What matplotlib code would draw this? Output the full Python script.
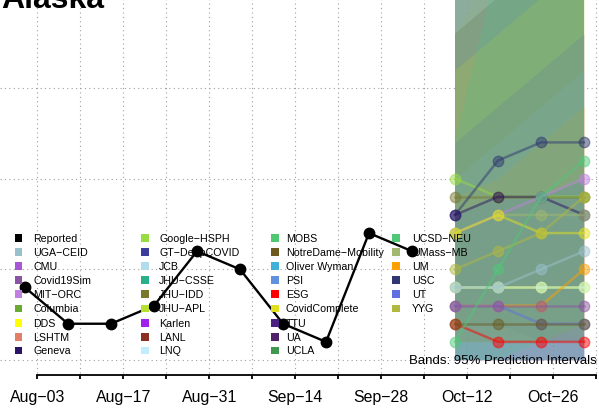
import matplotlib
matplotlib.use("Agg")
import matplotlib.pyplot as plt
import matplotlib.dates as mdates
from matplotlib.patches import Rectangle
import pandas as pd

plt.rcParams['font.family'] = ['Liberation Sans', 'DejaVu Sans']

# reported weekly values
report_dates = pd.date_range('2020-08-01', periods=10, freq='7D')
reported = [4, 2, 2, 3, 6, 5, 2, 1, 7, 6]

# forecast weeks
fc_dates = pd.date_range('2020-10-10', periods=4, freq='7D')

# legend (column-major, as in the original)
legend_names = ['Reported', 'UGA\u2212CEID', 'CMU', 'Covid19Sim', 'MIT\u2212ORC', 'Columbia', 'DDS', 'LSHTM', 'Geneva',
                'Google\u2212HSPH', 'GT\u2212DeepCOVID', 'JCB', 'JHU\u2212CSSE', 'JHU\u2212IDD', 'JHU\u2212APL', 'Karlen', 'LANL', 'LNQ',
                'MOBS', 'NotreDame\u2212Mobility', 'Oliver Wyman', 'PSI', 'ESG', 'CovidComplete', 'TTU', 'UA', 'UCLA',
                'UCSD\u2212NEU', 'UMass\u2212MB', 'UM', 'USC', 'UT', 'YYG']
legend_colors = ['#000000', '#9ac0cc', '#a855d8', '#8a55a0', '#c080e0', '#6aaa30', '#ffff00', '#e08068', '#2a1466',
                 '#98dc40', '#3c3c9c', '#b0dcec', '#28b088', '#787830', '#b8e030', '#a020f0', '#8b3020', '#c0eefc',
                 '#50c870', '#6b5a20', '#40b0d8', '#6090e0', '#ff0000', '#e0e020', '#4a2080', '#502068', '#409850',
                 '#50c878', '#a0b870', '#ffa000', '#303870', '#6070e0', '#b0b840']
color_of = dict(zip(legend_names, legend_colors))

# forecasts: median points
fc_models = ['DDS', 'LNQ', 'ESG', 'UM', 'UT', 'Covid19Sim', 'NotreDame\u2212Mobility', 'UGA\u2212CEID',
             'Google\u2212HSPH', 'JHU\u2212IDD', 'USC', 'Geneva', 'MIT\u2212ORC', 'UMass\u2212MB', 'CovidComplete',
             'YYG', 'UCSD\u2212NEU']
fc_points = [[4, 4, 4, 4], [4, 4, 4, 4], [2, 1, 1, 1], [3, 3, 3, 5], [3, 3, 2, 2], [3, 3, 3, 3], [2, 2, 2, 2], [4, 4, 5, 6],
             [10, 9, 9, 9], [9, 9, 9, 9], [8, 11, 12, 12], [8, 9, 9, 8], [7, 8, 9, 10], [7, 8, 8, 8],
             [7, 8, 7, 7], [5, 6, 7, 9], [1, 5, 9, 11]]

# 95% interval bands
band_models = ['Google\u2212HSPH', 'JHU\u2212IDD', 'USC', 'Geneva', 'MIT\u2212ORC', 'UMass\u2212MB', 'CovidComplete',
               'YYG', 'UGA\u2212CEID', 'DDS', 'LNQ', 'Covid19Sim', 'UM', 'UT', 'NotreDame\u2212Mobility', 'UCSD\u2212NEU',
               'Oliver Wyman']
band_lower = [[3, 2, 2, 2], [2, 2, 1, 1], [3, 4, 4, 3], [2, 2, 1, 1], [1, 1, 2, 2], [1, 1, 1, 1],
              [2, 2, 2, 1], [1, 1, 1, 2], [0, 0, 0, 0], [1, 1, 1, 1], [0, 0, 0, 0], [0, 0, 0, 0],
              [1, 1, 1, 2], [0, 0, 0, 0], [0, 0, 0, 0], [0, 0, 1, 2], [0, 0, 0, 0]]
band_upper = [[22, 24, 26, 28], [26, 28, 30, 32], [20, 26, 30, 32], [24, 28, 30, 32], [22, 26, 30, 32], [20, 24, 28, 30],
              [20, 22, 24, 26], [18, 22, 26, 30], [24, 26, 28, 30], [16, 18, 20, 22], [10, 12, 14, 16], [12, 14, 16, 18],
              [9, 10, 12, 14], [8, 9, 9, 10], [18, 20, 22, 24], [12, 22, 30, 35], [22, 24, 26, 28]]

W, H = 599, 413
fig = plt.figure(figsize=(W / 100, H / 100), dpi=100)
ax = fig.add_axes([0, 0, 1, 1])

aug3 = mdates.date2num(pd.Timestamp('2020-08-03'))
px_day = 43.0 / 7
ax.set_xlim(aug3 - 37.3 / px_day, aug3 + (W - 37.3) / px_day)
unit = 272 / 15
ax.set_ylim(-(H - 360) / unit, 360 / unit)

tick_dates = pd.date_range('2020-08-03', '2020-11-02', freq='7D')
tick_nums = mdates.date2num(tick_dates)

# grid
ax.hlines([0, 5, 10, 15], ax.get_xlim()[0], ax.get_xlim()[1], colors='#a0a0a0', linestyles=(0, (1, 3)), lw=0.8, zorder=1)
ax.vlines(tick_nums, -0.7, 25, colors='#a0a0a0', linestyles=(0, (1, 3)), lw=0.8, zorder=1)

# axis
for s in ['left', 'right', 'top']:
    ax.spines[s].set_visible(False)
ax.spines['bottom'].set_position(('data', -(375 - 360) / unit))
ax.spines['bottom'].set_bounds(tick_nums[0], tick_nums[-1])
ax.spines['bottom'].set_linewidth(1.3)
ax.set_yticks([])
ax.set_xticks(tick_nums)
ax.set_xticklabels([d.strftime('%b\u2212%d') if i % 2 == 0 else '' for i, d in enumerate(tick_dates)])
ax.tick_params(axis='x', direction='out', length=3, width=1.3, labelsize=11.4, pad=8)

# legend, drawn by hand in R layout
def fx(x):
    return x / W

def fy(y):
    return 1 - y / H

col_sq = [18.5, 145, 275, 396]
col_tx = [33, 159, 286, 412]
row_y = [238, 252, 266, 280, 294, 308.5, 323, 337, 350.5]
for i, (name, col) in enumerate(zip(legend_names, legend_colors)):
    c, r = divmod(i, 9)
    fig.add_artist(Rectangle((fx(col_sq[c] - 3.8), fy(row_y[r] + 3.8)), 7.6 / W, 7.6 / H,
                             transform=fig.transFigure, facecolor=col, edgecolor='none', zorder=2))
    fig.text(fx(col_tx[c]), fy(row_y[r]), name, fontsize=7.7, va='center_baseline', ha='left', zorder=2)

# reported
ax.plot(report_dates, reported, color='black', lw=1.7, marker='o', ms=7.5, zorder=5)

# bands
for name, lo, hi in zip(band_models, band_lower, band_upper):
    ax.fill_between(fc_dates, lo, hi, color=color_of[name], alpha=0.23, lw=0, zorder=6)

# forecast lines over the bands
for name, pts in zip(fc_models, fc_points):
    ax.plot(fc_dates, pts, color=color_of[name], lw=1.8, marker='o', ms=7.5, alpha=0.5, zorder=7)

fig.text(fx(597), fy(359), 'Bands: 95% Prediction Intervals', fontsize=9.5, ha='right', va='center_baseline', zorder=10)
fig.text(fx(1), fy(8), 'Alaska', fontsize=23, fontweight='bold', ha='left', va='baseline')

fig.savefig('out.png', dpi=100)
